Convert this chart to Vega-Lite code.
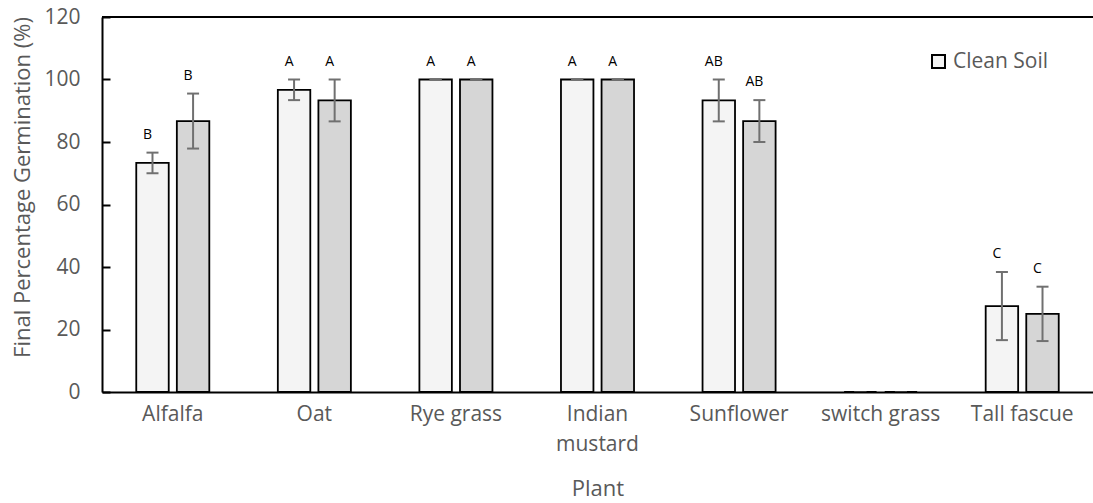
{
  "$schema": "https://vega.github.io/schema/vega-lite/v6.json",
  "width": 991,
  "height": 375,
  "autosize": {"type": "none"},
  "padding": {"left": 102, "top": 17, "right": 0, "bottom": 111},
  "config": {
    "font": "Open Sans",
    "view": {"stroke": null},
    "axis": {"grid": false}
  },
  "data": {
    "values": [
      {"plant": "Alfalfa", "soil": "Clean Soil", "mean": 73.3, "sd": 3.3, "letter": "B"},
      {"plant": "Alfalfa", "soil": "Contaminated Soil", "mean": 86.7, "sd": 8.8, "letter": "B"},
      {"plant": "Oat", "soil": "Clean Soil", "mean": 96.7, "sd": 3.3, "letter": "A"},
      {"plant": "Oat", "soil": "Contaminated Soil", "mean": 93.3, "sd": 6.7, "letter": "A"},
      {"plant": "Rye grass", "soil": "Clean Soil", "mean": 100, "sd": 0, "letter": "A"},
      {"plant": "Rye grass", "soil": "Contaminated Soil", "mean": 100, "sd": 0, "letter": "A"},
      {"plant": "Indian mustard", "soil": "Clean Soil", "mean": 100, "sd": 0, "letter": "A"},
      {"plant": "Indian mustard", "soil": "Contaminated Soil", "mean": 100, "sd": 0, "letter": "A"},
      {"plant": "Sunflower", "soil": "Clean Soil", "mean": 93.3, "sd": 6.7, "letter": "AB"},
      {"plant": "Sunflower", "soil": "Contaminated Soil", "mean": 86.7, "sd": 6.7, "letter": "AB"},
      {"plant": "switch grass", "soil": "Clean Soil", "mean": 0, "sd": 0, "letter": ""},
      {"plant": "switch grass", "soil": "Contaminated Soil", "mean": 0, "sd": 0, "letter": ""},
      {"plant": "Tall fascue", "soil": "Clean Soil", "mean": 27.5, "sd": 10.9, "letter": "C"},
      {"plant": "Tall fascue", "soil": "Contaminated Soil", "mean": 25, "sd": 8.7, "letter": "C"}
    ]
  },
  "transform": [
    {"calculate": "datum.mean + datum.sd", "as": "hi"},
    {"calculate": "datum.mean - datum.sd", "as": "lo"}
  ],
  "encoding": {
    "x": {
      "field": "plant",
      "type": "nominal",
      "sort": null,
      "scale": {"paddingInner": 0.484, "paddingOuter": 0.242},
      "axis": {
        "title": "Plant",
        "titleFontSize": 22,
        "titleFontWeight": "normal",
        "titleColor": "#595959",
        "titleY": 86,
        "titleBaseline": "top",
        "labelAngle": 0,
        "labelFontSize": 21,
        "labelColor": "#595959",
        "labelPadding": 11,
        "labelLineHeight": 30,
        "labelExpr": "datum.label == 'Indian mustard' ? ['Indian', 'mustard'] : datum.label",
        "ticks": false,
        "domainColor": "#000000",
        "domainWidth": 2,
        "zindex": 1
      }
    },
    "xOffset": {
      "field": "soil",
      "type": "nominal",
      "scale": {"paddingInner": 0.2, "paddingOuter": 0}
    }
  },
  "layer": [
    {
      "mark": {"type": "bar", "stroke": "#000000", "strokeWidth": 1.8},
      "encoding": {
        "y": {
          "field": "mean",
          "type": "quantitative",
          "scale": {"domain": [0, 120], "nice": false},
          "axis": {
            "title": "Final Percentage Germination (%)",
            "titleFontSize": 22,
            "titleFontWeight": "normal",
            "titleColor": "#595959",
            "titleX": -80,
            "titleY": 170,
            "titleBaseline": "middle",
            "values": [0, 20, 40, 60, 80, 100, 120],
            "labelFontSize": 21,
            "labelColor": "#595959",
            "tickSize": -8,
            "tickColor": "#000000",
            "tickWidth": 2,
            "labelPadding": 30,
            "domainColor": "#000000",
            "domainWidth": 2,
            "zindex": 1
          }
        },
        "fill": {
          "field": "soil",
          "type": "nominal",
          "scale": {"domain": ["Clean Soil", "Contaminated Soil"], "range": ["#f4f4f4", "#d6d6d6"]},
          "legend": {
            "orient": "none",
            "legendX": 826,
            "legendY": 34,
            "values": ["Clean Soil"],
            "title": null,
            "symbolType": "square",
            "symbolSize": 169,
            "symbolStrokeColor": "#000000",
            "symbolStrokeWidth": 2,
            "labelFontSize": 21,
            "labelColor": "#595959",
            "labelOffset": 4,
            "padding": 0,
            "encode": {"symbols": {"update": {"fill": {"value": "#ffffff"}, "stroke": {"value": "#000000"}}}}
          }
        }
      }
    },
    {
      "mark": {"type": "rule", "stroke": "#000000", "strokeWidth": 2},
      "encoding": {"y": {"datum": 120}, "x": null, "xOffset": null}
    },
    {
      "mark": {"type": "rule", "stroke": "#707070", "strokeWidth": 2},
      "encoding": {
        "y": {"field": "lo", "type": "quantitative"},
        "y2": {"field": "hi"}
      }
    },
    {
      "mark": {"type": "tick", "color": "#707070", "thickness": 2, "size": 12, "orient": "horizontal", "opacity": 1},
      "encoding": {"y": {"field": "hi", "type": "quantitative"}}
    },
    {
      "mark": {"type": "tick", "color": "#707070", "thickness": 2, "size": 12, "orient": "horizontal", "opacity": 1},
      "encoding": {"y": {"field": "lo", "type": "quantitative"}}
    },
    {
      "mark": {"type": "text", "fontSize": 14, "color": "#000000", "baseline": "middle", "dy": -18, "dx": -5},
      "encoding": {
        "y": {"field": "hi", "type": "quantitative"},
        "text": {"field": "letter"}
      }
    }
  ]
}
